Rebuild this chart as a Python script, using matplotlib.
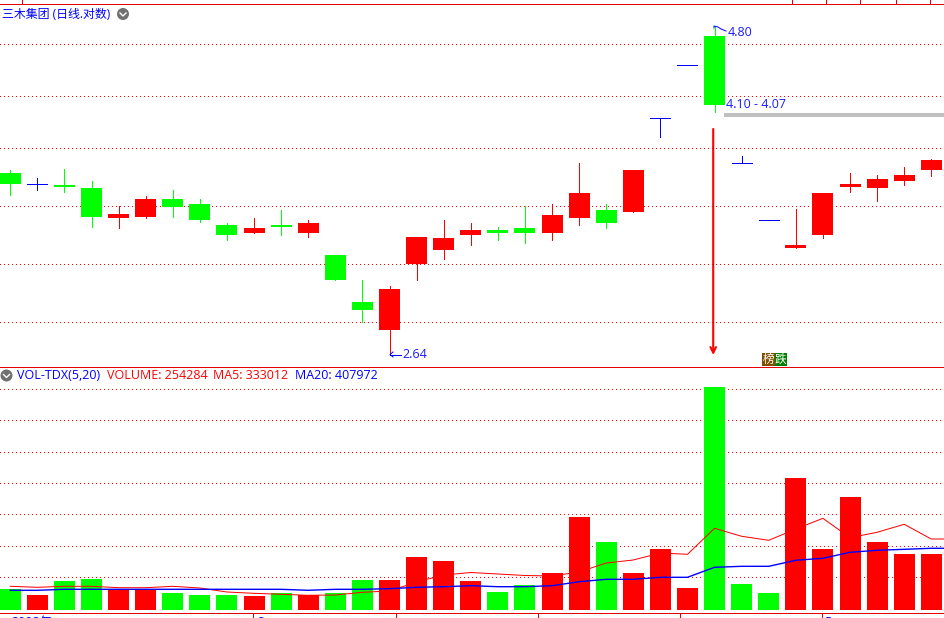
import matplotlib
matplotlib.use('Agg')
import matplotlib.pyplot as plt
from matplotlib.patches import Circle, Rectangle

plt.rcParams['font.family'] = ['Open Sans', 'Noto Sans CJK SC', 'DejaVu Sans']

# candles, prices
opens  = [3.675,3.602,3.595,3.576,3.386,3.393,3.505,3.474,3.343,3.295,3.343,3.295,3.166,2.906,2.763,3.115,3.195,3.283,3.313,3.325,3.295,3.386,3.436,3.424,4.061,4.472,4.714,3.742,3.374,3.207,3.283,3.582,3.576,3.621,3.695]
highs  = [3.695,3.641,3.702,3.621,3.461,3.525,3.563,3.505,3.356,3.386,3.436,3.374,3.166,3.025,2.992,3.271,3.374,3.356,3.331,3.461,3.474,3.742,3.474,3.695,4.061,4.472,4.800,3.790,3.374,3.442,3.544,3.675,3.661,3.715,3.770]
lows   = [3.531,3.563,3.550,3.331,3.325,3.386,3.393,3.362,3.253,3.295,3.283,3.271,3.025,2.803,2.640,3.025,3.143,3.224,3.253,3.235,3.253,3.343,3.325,3.424,3.923,4.472,4.106,3.742,3.374,3.207,3.265,3.550,3.493,3.595,3.655]
closes = [3.602,3.602,3.582,3.393,3.411,3.505,3.455,3.374,3.283,3.325,3.331,3.356,3.025,2.865,2.976,3.271,3.265,3.313,3.295,3.295,3.405,3.544,3.356,3.695,4.061,4.472,4.158,3.742,3.374,3.224,3.544,3.602,3.634,3.661,3.763]

# volume panel
volumes = [95400,68100,131700,140800,90800,90800,77200,68100,68100,63600,77200,68100,77200,136200,136200,240700,222500,131700,81700,113500,168000,422300,308800,168000,277000,99900,1012600,118100,77200,599400,277000,513100,308800,254284,254284]
vol_up  = [0,1,0,0,1,1,0,0,0,1,0,1,0,0,1,1,1,1,0,0,1,1,0,1,1,1,0,0,0,1,1,1,1,1,1]
# the averages run on to one more bar, past the right edge
ma5  = [107600,103100,107600,107600,101300,101300,107600,99900,81700,75800,71300,66800,68100,80400,86300,127100,158900,170300,163500,156700,154400,172600,213400,227100,258800,252900,371000,334700,316500,367800,416400,328300,352800,389200,322400,322400]
ma20 = [89500,89500,94000,94000,94000,94000,94000,94000,94000,94000,94000,89500,94000,94000,96700,103100,105800,110300,105800,105800,110300,128500,139400,139400,148500,148500,193900,198400,198400,225700,234800,262000,271100,275600,280200,280200]

price_grid = [4.645,4.227,3.846,3.461,3.115,2.803]
vol_grid = [148500,289300,434600,575300,716100,861400,1002200]

RED = '#ff0000'
GREEN = '#00ff00'
BLUE = '#0000ff'
px = 0.72  # one pixel in points at dpi 100
dots = (0, (1, 3))

fig = plt.figure(figsize=(9.44, 6.18), dpi=100, facecolor='white')
xs = list(range(len(opens)))
xlim = (-0.38, 34.47)
barw = 21 / 27.09

# price panel, pixel rows 5 to 367
ax = fig.add_axes([0, 1 - 367 / 618, 1, 362 / 618])
ax.set_yscale('log')
ax.set_xlim(xlim)
ax.set_ylim(2.583, 4.987)
ax.axis('off')
for p in price_grid:
    ax.axhline(p, color=RED, lw=px, ls=dots, zorder=1, antialiased=False)
for i in xs:
    o, h, l, c = opens[i], highs[i], lows[i], closes[i]
    col = BLUE if o == c else (RED if c > o else GREEN)
    ax.vlines(i, l, h, color=col, lw=px, zorder=2, antialiased=False)
    if o == c:
        ax.hlines(o, i - 10 / 27.09, i + 10 / 27.09, color=col, lw=px, zorder=2, antialiased=False)
    else:
        ax.bar(i, abs(c - o), bottom=min(o, c), width=barw, color=col, lw=0, zorder=3, antialiased=False)
# the long sell arrow
ax.annotate('', xy=(25.95, 2.64), xytext=(25.95, 3.981), zorder=4,
            arrowprops=dict(arrowstyle='->', color=RED, lw=1.5, mutation_scale=10, shrinkA=0, shrinkB=0))

# volume panel, pixel rows 367 to 613
ax2 = fig.add_axes([0, 1 - 613 / 618, 1, 246 / 618])
ax2.set_xlim(xlim)
ax2.set_ylim(-13620, 1103460)
ax2.axis('off')
for v in vol_grid:
    ax2.axhline(v, color=RED, lw=px, ls=dots, zorder=1, antialiased=False)
ax2.bar(xs, volumes, width=barw, color=[RED if u else GREEN for u in vol_up], lw=0, zorder=2, antialiased=False)
ax2.plot(range(len(ma5)), ma5, color=RED, lw=px, zorder=3)
ax2.plot(range(len(ma20)), ma20, color=BLUE, lw=1.0, zorder=4)

# frame, labels and badges in pixel coordinates
top = fig.add_axes([0, 0, 1, 1], zorder=10)
top.set_xlim(0, 944)
top.set_ylim(618, 0)
top.axis('off')
top.patch.set_alpha(0)

for y in [4, 367, 613]:
    top.plot([0, 944], [y, y], color='#e60000', lw=px, solid_capstyle='butt', antialiased=False)
for x in [22, 792, 826, 860, 896, 930]:
    top.plot([x, x], [0, 4], color='#e60000', lw=px, antialiased=False)
for x in [253, 396, 538, 680, 822]:
    top.plot([x, x], [613, 618], color='#e60000', lw=px, antialiased=False)

# gray band of the gap
top.add_patch(Rectangle((724, 113), 220, 4, color='#c0c0c0', lw=0))

top.text(2, 14, '三木集团 (日线.对数)', color=BLUE, fontsize=8.6, va='center')
top.text(728, 32.5, '4.80', color='#1a1aff', fontsize=9, va='center')
top.text(726, 104.5, '4.10 - 4.07', color='#1a1aff', fontsize=9, va='center')
top.text(402, 354.5, '2.64', color='#1a1aff', fontsize=9, va='center')
top.plot([714, 714, 718, 721, 726], [28, 26, 27, 29, 31], color=BLUE, lw=px)
top.plot([390, 401], [354.5, 354.5], color=BLUE, lw=px)
top.plot([393, 390, 393], [352, 354.5, 357], color=BLUE, lw=px)

top.text(17, 375.5, 'VOL-TDX(5,20)', color=BLUE, fontsize=9, va='center')
top.text(107, 375.5, 'VOLUME: 254284', color=RED, fontsize=9, va='center')
top.text(213, 375.5, 'MA5: 333012', color=RED, fontsize=9, va='center')
top.text(295, 375.5, 'MA20: 407972', color=BLUE, fontsize=9, va='center')

for cx, cy in [(123, 14), (6.5, 375.5)]:
    top.add_patch(Circle((cx, cy), 6, color='#707070', lw=0))
    top.plot([cx - 3, cx, cx + 3], [cy - 1, cy + 2, cy - 1], color='white', lw=1)

top.add_patch(Rectangle((762, 353), 12.5, 13, color='#7f4f00', lw=0))
top.add_patch(Rectangle((774.5, 353), 12.5, 13, color='#007f00', lw=0))
top.text(768.2, 359.5, '榜', color='white', fontsize=8.4, ha='center', va='center')
top.text(780.8, 359.5, '跌', color='white', fontsize=8.4, ha='center', va='center')

# date row is cut off by the window edge
top.text(11, 616, '2008年', color=BLUE, fontsize=9, va='top', clip_on=False)
top.text(257, 616, '2', color=BLUE, fontsize=9, va='top', clip_on=False)
top.text(824, 616, '5', color=BLUE, fontsize=9, va='top', clip_on=False)

fig.savefig('out.png', dpi=100)
